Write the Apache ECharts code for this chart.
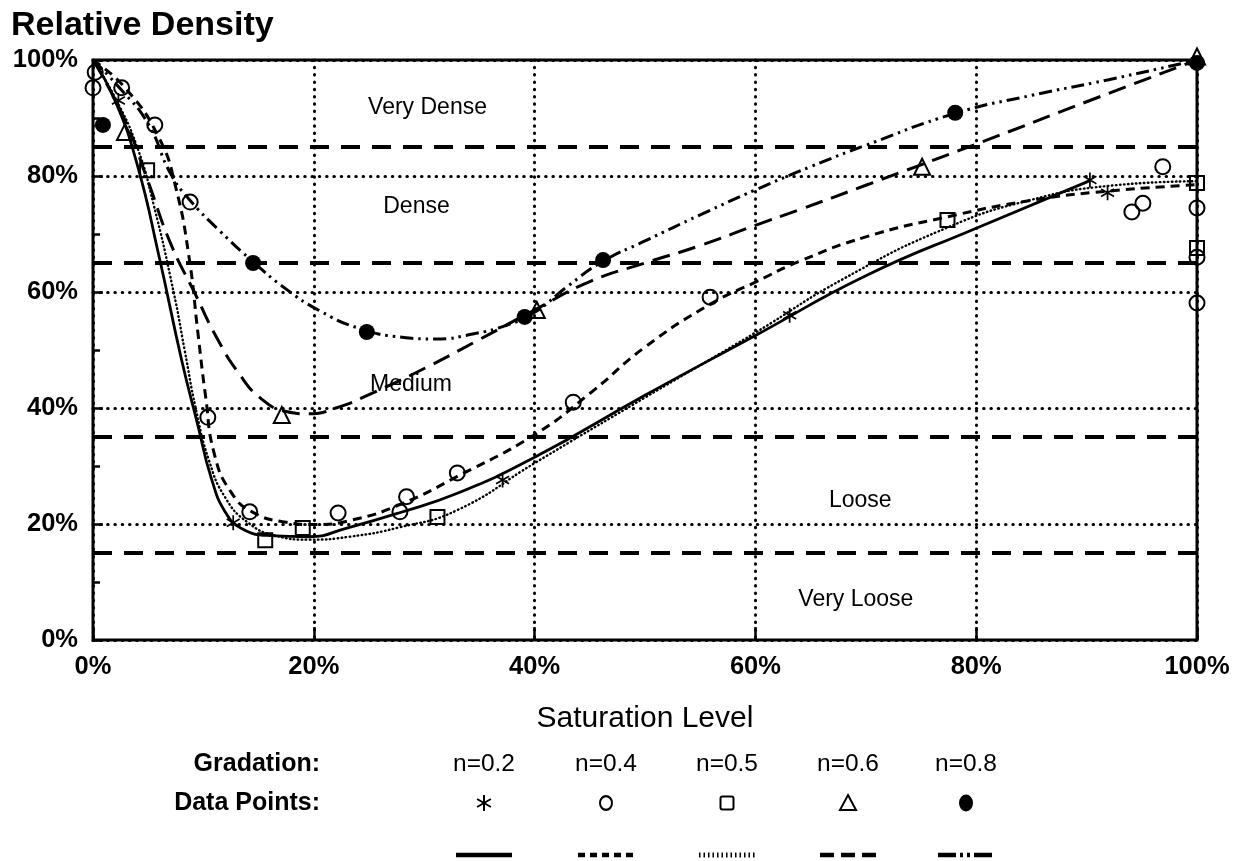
<!DOCTYPE html>
<html>
<head>
<meta charset="utf-8">
<title>Relative Density vs Saturation Level</title>
<script src="https://cdn.jsdelivr.net/npm/echarts@6/dist/echarts.min.js"></script>
<style>
  html, body { margin: 0; padding: 0; background: #fff; }
  #chart { width: 1235px; height: 861px; }
</style>
</head>
<body>
<div id="chart"></div>
<script>
// ---------------- data ----------------
const axisTicks = [0, 20, 40, 60, 80, 100];

const gradations = ['n=0.2', 'n=0.4', 'n=0.5', 'n=0.6', 'n=0.8'];

// zone boundaries (relative density, %) and zone names, top to bottom
const zoneBounds = [15, 35, 65, 85];
const zoneNames = ['Very Dense', 'Dense', 'Medium', 'Loose', 'Very Loose'];

// fitted curves: [saturation %, relative density %]
const curveN02 = [
  [0, 100], [2, 93], [4, 82], [6, 66], [8, 48.5], [9.5, 37], [10.7, 28], [12, 22],
  [13.5, 19.2], [16, 18], [19.6, 17.8], [23, 19.3], [27.7, 21.9], [33, 25.3], [40, 31.5],
  [50, 42.2], [60, 52.5], [70, 62.8], [80, 71], [90.3, 79.2]
];
const curveN04 = [
  [0, 100], [3, 95], [6, 86.5], [7.5, 78], [8.7, 66], [9.5, 53], [10.2, 42], [11, 32],
  [12.5, 25.5], [14.5, 22], [17.5, 20.3], [20, 19.9], [23.5, 20.7], [28, 23.5], [33, 28.2],
  [40, 35.4], [45, 42.5], [50, 50.5], [56, 58], [60, 61.7], [64, 65.3], [70, 69.5],
  [77, 72.8], [85, 75.8], [92, 77.4], [100, 78.5]
];
const curveN05 = [
  [0, 100], [2, 93.5], [4, 85], [5.5, 75], [7.3, 60], [8.3, 50], [9.3, 40], [10.5, 31],
  [12, 24.5], [14, 20.3], [16.5, 18], [19.6, 17.3], [23.2, 17.8], [27.7, 19.4], [33, 22.4],
  [40, 30.5], [50, 41.8], [60, 53], [68, 62.3], [77.5, 71.2], [85, 75.9], [92, 78.3], [100, 79.1]
];
const curveN06 = [
  [0, 100], [2.8, 90], [5, 79], [7, 68.5], [9.3, 59.5], [11.1, 52.5], [13.2, 46], [15.3, 41.5],
  [17.5, 39.4], [19.6, 39], [22, 40], [25, 42.3], [30.2, 47], [35, 51.8], [40.1, 57],
  [45, 61.8], [50, 65], [55, 68], [60, 71.5], [64, 74.2], [70, 78.4], [80, 85.5],
  [90, 92.8], [100, 100]
];
const curveN08 = [
  [0, 100], [2.5, 95], [5, 89], [7, 80.5], [8.7, 76], [11.5, 70.5], [14.5, 65.2], [17.5, 60.5],
  [20.5, 56.8], [24, 53.8], [28, 52.2], [31, 51.9], [34.5, 52.8], [37.5, 54.3], [40, 56.5],
  [43, 61], [46.2, 65.3], [50, 68.8], [55, 73.3], [60, 77.6], [65, 81.6], [70, 85.3],
  [78.1, 90.8], [85, 93.9], [92, 96.6], [100, 100]
];

// measured points: [saturation %, relative density %]
const pointsN02 = [[2.3, 93], [12.7, 20.2], [37.1, 27.6], [63.1, 56], [90.3, 79.3], [91.9, 77.1]];
const pointsN04 = [
  [0.2, 97.9], [0, 95.2], [2.6, 95.2], [5.6, 88.8], [8.8, 75.5], [10.4, 38.4], [14.2, 22.1],
  [22.2, 21.9], [27.8, 22.1], [28.4, 24.7], [33, 28.8], [43.5, 41], [55.9, 59.1],
  [94.1, 73.8], [95.1, 75.3], [96.9, 81.6], [100, 74.5], [100, 66], [100, 58.1]
];
const pointsN05 = [[4.9, 81], [15.6, 17.2], [19, 19.3], [31.2, 21.2], [77.4, 72.4], [100, 78.8], [100, 67.6]];
const pointsN06 = [[2.9, 87.6], [17.1, 38.8], [40.2, 56.9], [75.1, 81.6], [100, 100.6]];
const pointsN08 = [[0.9, 88.8], [14.5, 65], [24.8, 53.1], [39.1, 55.7], [46.2, 65.5], [78.1, 90.9], [100, 99.5]];

// ---------------- styles ----------------
const FONT = '"Liberation Sans", Arial, Helvetica, sans-serif';
const INK = '#000';

// dash patterns for the five gradation curves
const curveStyles = [
  { width: 2.8, type: 'solid', cap: 'butt' },
  { width: 3, type: [9, 6], cap: 'butt' },
  { width: 2.4, type: [0.6, 3.4], cap: 'round' },
  { width: 3, type: [18, 9], cap: 'butt' },
  { width: 3, type: [13, 5, 2.5, 5, 2.5, 5], cap: 'butt' }
];
// shorter patterns for the legend samples
const sampleDash = [null, [7, 5], [1.5, 3], [14, 7], [18, 4, 3, 4, 3, 4]];

const STAR = 'path://M0,-10L0,10M-8.66,-5L8.66,5M-8.66,5L8.66,-5';
const markerStyles = [
  { symbol: STAR, size: 15, item: { color: 'none', borderColor: INK, borderWidth: 1.7, opacity: 1 } },
  { symbol: 'circle', size: 15, item: { color: 'rgba(0,0,0,0)', borderColor: INK, borderWidth: 2, opacity: 1 } },
  { symbol: 'rect', size: 14, item: { color: 'rgba(0,0,0,0)', borderColor: INK, borderWidth: 2, opacity: 1 } },
  { symbol: 'triangle', size: 16, item: { color: 'rgba(0,0,0,0)', borderColor: INK, borderWidth: 2, opacity: 1 } },
  { symbol: 'circle', size: 16, item: { color: INK, borderWidth: 0, opacity: 1 } }
];

const curves = [curveN02, curveN04, curveN05, curveN06, curveN08];
const points = [pointsN02, pointsN04, pointsN05, pointsN06, pointsN08];

// anchor of each zone label inside its band (saturation %, density %)
const zoneLabelAnchor = [[30.3, 91.8], [29.3, 74.8], [28.8, 44], [69.5, 24.1], [69.1, 6.9]];

const dottedGrid = { color: INK, width: 3, type: [0.5, 6.8], cap: 'round' };

// ---------------- series ----------------
const series = [];

// zone labels, with the zone boundary lines attached as markLines
series.push({
  type: 'scatter',
  silent: true,
  z: 2,
  symbolSize: 0,
  itemStyle: { opacity: 1 },
  data: zoneNames.map((name, i) => ({ value: zoneLabelAnchor[i], name })),
  label: {
    show: true,
    position: 'inside',
    formatter: p => p.name,
    fontFamily: FONT,
    fontSize: 23,
    color: INK,
    opacity: 1
  },
  markLine: {
    silent: true,
    symbol: 'none',
    label: { show: false },
    lineStyle: { color: INK, width: 3.8, type: [19, 12], opacity: 1 },
    data: zoneBounds.map(v => ({ yAxis: v }))
  }
});

curves.forEach((data, i) => {
  series.push({
    name: gradations[i],
    type: 'line',
    data,
    smooth: 0.5,
    showSymbol: false,
    silent: true,
    z: 3,
    lineStyle: Object.assign({ color: INK }, curveStyles[i])
  });
});

points.forEach((data, i) => {
  const m = markerStyles[i];
  series.push({
    name: gradations[i] + ' points',
    type: 'scatter',
    data,
    symbol: m.symbol,
    symbolSize: m.size,
    symbolKeepAspect: true,
    clip: false,
    silent: true,
    z: 4,
    itemStyle: m.item
  });
});

// ---------------- legend table (Gradation / Data Points / line) ----------------
const legendCols = [484, 606, 727, 848, 966];
const legendRows = { grad: 764, pts: 803, line: 855 };
const legendFont = (w, s) => `${w} ${s}px ${FONT}`;
const graphic = [];

graphic.push({ type: 'text', style: { text: 'Gradation:', x: 320, y: legendRows.grad, font: legendFont('bold', 25), align: 'right', verticalAlign: 'middle', fill: INK } });
graphic.push({ type: 'text', style: { text: 'Data Points:', x: 320, y: legendRows.pts, font: legendFont('bold', 25), align: 'right', verticalAlign: 'middle', fill: INK } });

gradations.forEach((g, i) => {
  const cx = legendCols[i];
  graphic.push({ type: 'text', style: { text: g, x: cx, y: legendRows.grad, font: legendFont('normal', 24.5), align: 'center', verticalAlign: 'middle', fill: INK } });

  const cy = legendRows.pts;
  const stroke = { fill: 'none', stroke: INK, lineWidth: 2 };
  if (i === 0) {
    // asterisk from three strokes
    [[0, -8, 0, 8], [-6.9, -4, 6.9, 4], [-6.9, 4, 6.9, -4]].forEach(s => {
      graphic.push({ type: 'line', shape: { x1: cx + s[0], y1: cy + s[1], x2: cx + s[2], y2: cy + s[3] }, style: { stroke: INK, lineWidth: 2 } });
    });
  } else if (i === 1) {
    graphic.push({ type: 'circle', x: cx, y: cy, scaleY: 1.15, shape: { cx: 0, cy: 0, r: 6 }, style: stroke });
  } else if (i === 2) {
    graphic.push({ type: 'rect', shape: { x: cx - 6.5, y: cy - 6.5, width: 13, height: 13, r: 2 }, style: stroke });
  } else if (i === 3) {
    graphic.push({ type: 'polygon', shape: { points: [[cx, cy - 8], [cx + 8, cy + 7], [cx - 8, cy + 7]] }, style: stroke });
  } else {
    graphic.push({ type: 'circle', x: cx, y: cy, scaleY: 1.2, shape: { cx: 0, cy: 0, r: 7 }, style: { fill: INK } });
  }

  graphic.push({
    type: 'line',
    shape: { x1: cx - 28, y1: legendRows.line, x2: cx + 28, y2: legendRows.line },
    style: {
      stroke: INK,
      lineWidth: i === 2 ? 5 : 4.5,
      lineDash: sampleDash[i],
      lineCap: 'butt'
    }
  });
});

// ---------------- chart ----------------
const chart = echarts.init(document.getElementById('chart'), null, { renderer: 'canvas' });

chart.setOption({
  animation: false,
  backgroundColor: '#fff',
  title: {
    text: 'Relative Density',
    left: 6,
    top: 4,
    textStyle: { fontFamily: FONT, fontSize: 34, fontWeight: 'bold', color: INK }
  },
  grid: {
    left: 93, right: 38, top: 60, bottom: 221,
    show: true,
    borderColor: INK,
    borderWidth: 3,
    backgroundColor: 'transparent'
  },
  xAxis: {
    type: 'value',
    min: axisTicks[0],
    max: axisTicks[axisTicks.length - 1],
    interval: axisTicks[1] - axisTicks[0],
    name: 'Saturation Level',
    nameLocation: 'middle',
    nameGap: 64,
    nameTextStyle: { fontFamily: FONT, fontSize: 30, color: INK },
    axisLine: { show: false },
    axisTick: { show: true, inside: true, length: 13, lineStyle: { color: INK, width: 2.5 } },
    axisLabel: { formatter: '{value}%', fontFamily: FONT, fontSize: 25.5, fontWeight: 'bold', color: INK, margin: 14 },
    splitLine: { show: true, lineStyle: dottedGrid }
  },
  yAxis: {
    type: 'value',
    min: axisTicks[0],
    max: axisTicks[axisTicks.length - 1],
    interval: axisTicks[1] - axisTicks[0],
    axisLine: { show: false },
    axisTick: { show: true, inside: true, length: 10, lineStyle: { color: INK, width: 2.5 } },
    minorTick: { show: true, splitNumber: 2, length: 7, lineStyle: { color: INK, width: 2.5 } },
    axisLabel: { formatter: '{value}%', fontFamily: FONT, fontSize: 25.5, fontWeight: 'bold', color: INK, margin: 15 },
    splitLine: { show: true, lineStyle: dottedGrid }
  },
  series,
  graphic
});
</script>
</body>
</html>
